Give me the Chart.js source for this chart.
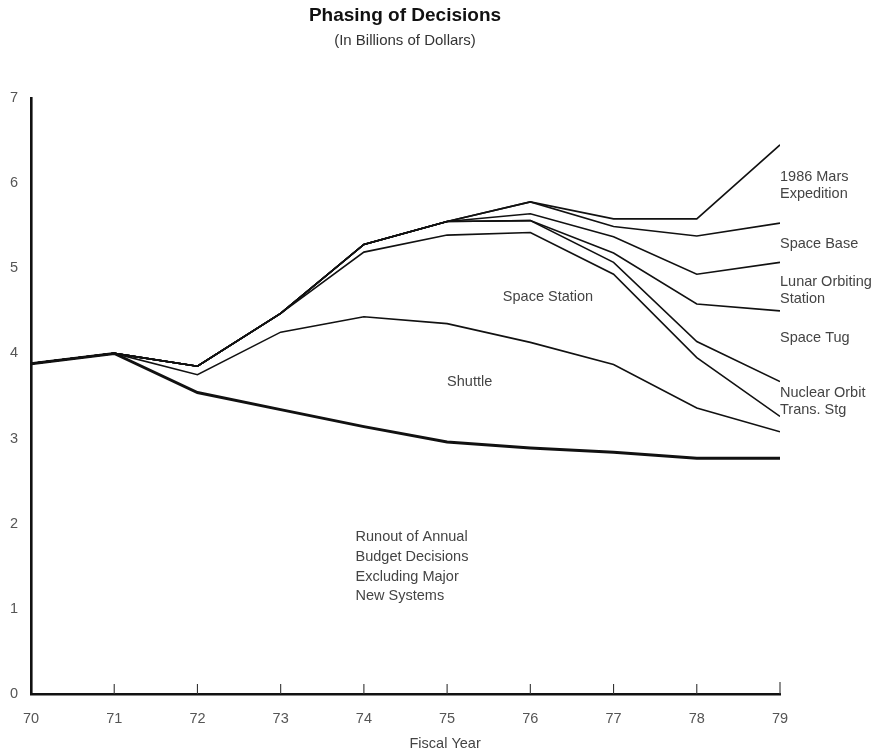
<!DOCTYPE html>
<html>
<head>
<meta charset="utf-8">
<script src="https://cdn.jsdelivr.net/npm/chart.js@4.4.0/dist/chart.umd.min.js"></script>
<style>
  html, body { margin: 0; padding: 0; background: #fff; }
  #wrap { width: 887px; height: 753px; position: relative; }
</style>
</head>
<body>
<div id="wrap"><canvas id="c" width="887" height="753"></canvas></div>
<script>
// ---- Data (fiscal years, cumulative billions of dollars) ----
const years = [70, 71, 72, 73, 74, 75, 76, 77, 78, 79];
const runout       = [3.88, 4.00, 3.54, 3.34, 3.14, 2.96, 2.89, 2.84, 2.77, 2.77];
const shuttle      = [3.88, 4.00, 3.75, 4.25, 4.43, 4.35, 4.13, 3.87, 3.36, 3.08];
const spaceStation = [3.88, 4.00, 3.85, 4.47, 5.19, 5.39, 5.42, 4.93, 3.95, 3.26];
const nuclearOrbit = [3.88, 4.00, 3.85, 4.47, 5.28, 5.55, 5.56, 5.07, 4.14, 3.67];
const spaceTug     = [3.88, 4.00, 3.85, 4.47, 5.28, 5.55, 5.56, 5.18, 4.58, 4.50];
const lunarOrbit   = [3.88, 4.00, 3.85, 4.47, 5.28, 5.55, 5.64, 5.37, 4.93, 5.07];
const spaceBase    = [3.88, 4.00, 3.85, 4.47, 5.28, 5.55, 5.78, 5.49, 5.38, 5.53];
const marsExp      = [3.88, 4.00, 3.85, 4.47, 5.28, 5.55, 5.78, 5.58, 5.58, 6.45];
const yTicks = [0, 1, 2, 3, 4, 5, 6, 7];
const xTicks = [70, 71, 72, 73, 74, 75, 76, 77, 78, 79];

const titleText = 'Phasing of Decisions';
const subtitleText = '(In Billions of Dollars)';
const xAxisTitle = 'Fiscal Year';

// Region labels placed in data coordinates
const regionLabels = [
  { lines: ['1986 Mars', 'Expedition'], x: 79.0, y: 6.07 },
  { lines: ['Space Base'], x: 79.0, y: 5.285 },
  { lines: ['Lunar Orbiting', 'Station'], x: 79.0, y: 4.84 },
  { lines: ['Space Tug'], x: 79.0, y: 4.18 },
  { lines: ['Nuclear Orbit', 'Trans. Stg'], x: 79.0, y: 3.535 },
  { lines: ['Space Station'], x: 75.67, y: 4.66 },
  { lines: ['Shuttle'], x: 75.0, y: 3.66 },
  { lines: ['Runout of Annual', 'Budget Decisions', 'Excluding Major', 'New Systems'], x: 73.9, y: 1.84, lh: 19.6 }
];

const FONT = "'Liberation Sans', Arial, Helvetica, sans-serif";
const TEXT = '#444';
const TICK_TEXT = '#555';

function mk(arr, w) {
  return {
    data: years.map((yr, i) => ({ x: yr, y: arr[i] })),
    borderColor: '#111',
    borderWidth: w,
    pointRadius: 0,
    tension: 0,
    fill: false
  };
}

const decor = {
  id: 'decor',
  afterDraw(chart) {
    const { ctx, chartArea, scales } = chart;
    const xs = scales.x, ys = scales.y;
    ctx.save();
    // inward tick marks on x axis
    ctx.strokeStyle = '#333';
    ctx.lineWidth = 1.1;
    xTicks.forEach(v => {
      if (v === xTicks[0]) return;
      const px = xs.getPixelForValue(v);
      ctx.beginPath();
      ctx.moveTo(px, chartArea.bottom);
      ctx.lineTo(px, chartArea.bottom - (v === 79 ? 12 : 10));
      ctx.stroke();
    });
    // titles
    ctx.fillStyle = '#111';
    ctx.textAlign = 'center';
    ctx.textBaseline = 'middle';
    ctx.font = "bold 19px " + FONT;
    ctx.fillText(titleText, 405, 16);
    ctx.fillStyle = '#333';
    ctx.font = "15px " + FONT;
    ctx.fillText(subtitleText, 405, 41);
    // axis title
    ctx.fillStyle = TEXT;
    ctx.font = "14.5px " + FONT;
    ctx.fillText(xAxisTitle, xs.getPixelForValue(75) - 2, chartArea.bottom + 50);
    // region labels
    ctx.textAlign = 'left';
    ctx.font = "14.5px " + FONT;
    regionLabels.forEach(l => {
      const px = xs.getPixelForValue(l.x);
      const py = ys.getPixelForValue(l.y);
      const lh = l.lh || 17;
      l.lines.forEach((t, i) => ctx.fillText(t, px, py + i * lh));
    });
    ctx.restore();
  }
};

new Chart(document.getElementById('c'), {
  type: 'line',
  data: {
    datasets: [
      mk(runout, 3),
      mk(shuttle, 1.6),
      mk(spaceStation, 1.6),
      mk(nuclearOrbit, 1.6),
      mk(spaceTug, 1.6),
      mk(lunarOrbit, 1.6),
      mk(spaceBase, 1.6),
      mk(marsExp, 1.6)
    ]
  },
  options: {
    responsive: false,
    animation: false,
    devicePixelRatio: 1,
    layout: { padding: { top: 98, right: 107, left: 0, bottom: 0 } },
    plugins: { legend: { display: false }, tooltip: { enabled: false }, title: { display: false } },
    scales: {
      x: {
        type: 'linear',
        min: 70, max: 79,
        afterBuildTicks: s => { s.ticks = xTicks.map(v => ({ value: v })); },
        afterFit: s => { s.height = 59; },
        grid: { drawOnChartArea: false, drawTicks: false },
        border: { display: true, color: '#111', width: 2.6 },
        ticks: { color: TICK_TEXT, font: { family: FONT, size: 14.5 }, padding: 16, maxRotation: 0, autoSkip: false }
      },
      y: {
        min: 0, max: 7,
        afterBuildTicks: s => { s.ticks = yTicks.map(v => ({ value: v })); },
        afterFit: s => { s.width = 31; },
        grid: { drawOnChartArea: false, drawTicks: false },
        border: { display: true, color: '#111', width: 2.6 },
        ticks: { color: TICK_TEXT, font: { family: FONT, size: 14.5 }, padding: 13 }
      }
    }
  },
  plugins: [decor]
});
</script>
</body>
</html>
